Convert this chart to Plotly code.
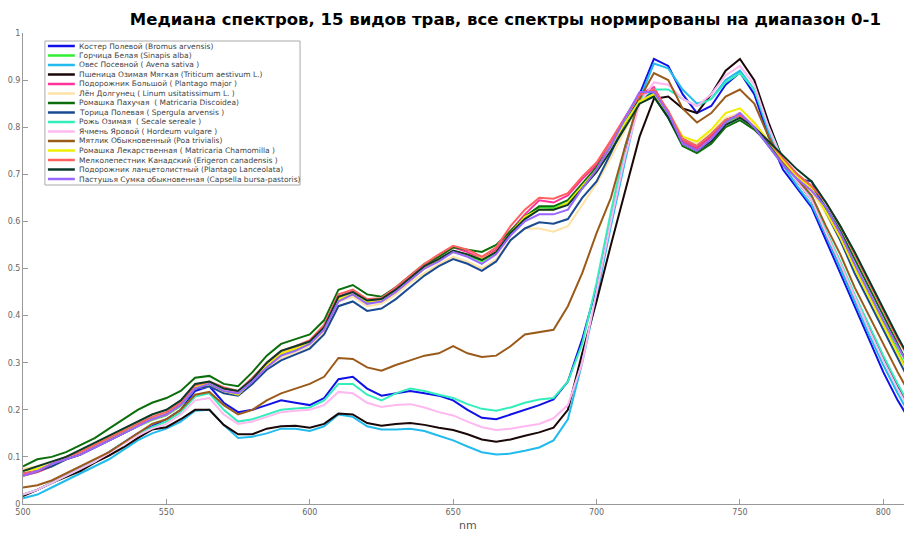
import plotly.graph_objects as go

wavelengths = list(range(500, 811, 5))

names = [
    "Костер Полевой (Bromus arvensis)",
    "Горчица Белая (Sinapis alba)",
    "Овес Посевной ( Avena sativa )",
    "Пшеница Озимая Мягкая (Triticum aestivum L.)",
    "Подорожник Большой ( Plantago major )",
    "Лён Долгунец ( Linum usitatissimum L. )",
    "Ромашка Пахучая  ( Matricaria Discoidea)",
    "Торица Полевая ( Spergula arvensis )",
    "Рожь Озимая  ( Secale sereale )",
    "Ячмень Яровой ( Hordeum vulgare )",
    "Мятлик Обыкновенный (Poa trivialis)",
    "Ромашка Лекарственная ( Matricaria Chamomilla )",
    "Мелколепестник Канадский (Erigeron canadensis )",
    "Подорожник ланцетолистный (Plantago Lanceolata)",
    "Пастушья Сумка обыкновенная (Capsella bursa-pastoris)",
]

colors = ["#1010e8", "#33ee33", "#22bbee", "#1a0808", "#ff3399", "#ffe2a6",
          "#0b6e0b", "#1a4a90", "#33eebb", "#ffb8f0", "#9a5a1a", "#eeee00",
          "#ff6060", "#0a3a28", "#9966ff"]

kostr = [0.02, 0.03, 0.045, 0.06, 0.075, 0.09, 0.11, 0.13, 0.15, 0.165, 0.18, 0.2, 0.24, 0.25, 0.215, 0.195,
         0.2, 0.21, 0.22, 0.215, 0.21, 0.225, 0.265, 0.27, 0.245, 0.23, 0.235, 0.24, 0.235, 0.23, 0.22, 0.2,
         0.183, 0.18, 0.19, 0.2, 0.21, 0.222, 0.26, 0.35, 0.46, 0.6, 0.74, 0.87, 0.945, 0.93, 0.87, 0.83,
         0.845, 0.89, 0.916, 0.87, 0.78, 0.71, 0.67, 0.63, 0.56, 0.49, 0.42, 0.35, 0.28, 0.22, 0.17]
gorchica = [0.06, 0.068, 0.08, 0.095, 0.105, 0.12, 0.135, 0.15, 0.165, 0.178, 0.188, 0.208, 0.245, 0.252, 0.238, 0.232,
            0.26, 0.29, 0.315, 0.327, 0.34, 0.37, 0.435, 0.445, 0.428, 0.43, 0.45, 0.475, 0.5, 0.518, 0.535, 0.528,
            0.515, 0.535, 0.575, 0.61, 0.63, 0.628, 0.64, 0.675, 0.71, 0.76, 0.81, 0.86, 0.875, 0.825, 0.77, 0.755,
            0.78, 0.81, 0.825, 0.8, 0.765, 0.725, 0.695, 0.67, 0.625, 0.57, 0.505, 0.445, 0.385, 0.325, 0.265]
oves = [0.012, 0.02, 0.035, 0.05, 0.065, 0.08, 0.095, 0.115, 0.135, 0.15, 0.16, 0.175, 0.198, 0.2, 0.168, 0.14,
        0.143, 0.15, 0.16, 0.16, 0.155, 0.165, 0.19, 0.185, 0.165, 0.158, 0.158, 0.16, 0.155, 0.145, 0.135, 0.122,
        0.11, 0.105, 0.107, 0.113, 0.12, 0.135, 0.18, 0.3, 0.44, 0.59, 0.73, 0.86, 0.935, 0.925, 0.88, 0.85,
        0.86, 0.9, 0.92, 0.88, 0.79, 0.72, 0.675, 0.635, 0.57, 0.5, 0.43, 0.36, 0.295, 0.235, 0.18]
pshenica = [0.017, 0.03, 0.045, 0.058, 0.07, 0.088, 0.103, 0.12, 0.14, 0.158, 0.163, 0.18, 0.2, 0.2, 0.168, 0.148,
            0.148, 0.16, 0.165, 0.166, 0.162, 0.17, 0.192, 0.19, 0.172, 0.166, 0.17, 0.172, 0.168, 0.162, 0.157, 0.148,
            0.137, 0.132, 0.137, 0.145, 0.152, 0.162, 0.2, 0.32, 0.43, 0.55, 0.665, 0.78, 0.86, 0.865, 0.84, 0.83,
            0.87, 0.92, 0.945, 0.9, 0.81, 0.73, 0.685, 0.645, 0.575, 0.51, 0.44, 0.375, 0.31, 0.25, 0.195]
podorozhnik_b = [0.06, 0.068, 0.08, 0.095, 0.105, 0.12, 0.135, 0.15, 0.168, 0.18, 0.19, 0.215, 0.25, 0.258, 0.245, 0.238,
                 0.265, 0.295, 0.32, 0.33, 0.345, 0.375, 0.44, 0.452, 0.432, 0.435, 0.455, 0.48, 0.505, 0.525, 0.545, 0.535,
                 0.52, 0.54, 0.58, 0.615, 0.645, 0.64, 0.655, 0.69, 0.72, 0.77, 0.82, 0.87, 0.885, 0.83, 0.77, 0.755,
                 0.78, 0.815, 0.83, 0.8, 0.765, 0.725, 0.69, 0.665, 0.62, 0.57, 0.5, 0.44, 0.38, 0.32, 0.26]
len_ = [0.075, 0.08, 0.09, 0.1, 0.11, 0.125, 0.14, 0.155, 0.165, 0.18, 0.19, 0.21, 0.245, 0.25, 0.238, 0.235,
        0.26, 0.29, 0.31, 0.322, 0.335, 0.365, 0.43, 0.44, 0.42, 0.425, 0.445, 0.47, 0.49, 0.51, 0.525, 0.515,
        0.5, 0.52, 0.56, 0.585, 0.585, 0.578, 0.59, 0.635, 0.68, 0.735, 0.795, 0.85, 0.87, 0.835, 0.78, 0.765,
        0.79, 0.82, 0.83, 0.805, 0.77, 0.73, 0.69, 0.665, 0.615, 0.56, 0.495, 0.435, 0.375, 0.315, 0.255]
romashka_p = [0.08, 0.095, 0.1, 0.11, 0.125, 0.14, 0.16, 0.18, 0.2, 0.215, 0.225, 0.24, 0.268, 0.272, 0.255, 0.25,
              0.28, 0.315, 0.34, 0.35, 0.36, 0.39, 0.455, 0.465, 0.445, 0.44, 0.46, 0.485, 0.51, 0.525, 0.545, 0.54,
              0.535, 0.55, 0.58, 0.61, 0.632, 0.632, 0.645, 0.68, 0.715, 0.76, 0.81, 0.86, 0.865, 0.82, 0.76, 0.745,
              0.765, 0.8, 0.815, 0.795, 0.765, 0.73, 0.7, 0.675, 0.63, 0.58, 0.52, 0.46, 0.4, 0.34, 0.28]
torica = [0.065, 0.07, 0.08, 0.095, 0.105, 0.12, 0.135, 0.15, 0.165, 0.18, 0.19, 0.21, 0.245, 0.25, 0.235, 0.23,
          0.255, 0.285, 0.305, 0.318, 0.33, 0.36, 0.42, 0.43, 0.41, 0.415, 0.435, 0.46, 0.485, 0.505, 0.52, 0.51,
          0.495, 0.515, 0.56, 0.585, 0.598, 0.595, 0.605, 0.65, 0.685, 0.745, 0.81, 0.86, 0.875, 0.83, 0.775, 0.76,
          0.785, 0.815, 0.825, 0.8, 0.76, 0.72, 0.69, 0.685, 0.62, 0.56, 0.49, 0.43, 0.37, 0.31, 0.25]
rozh = [0.02, 0.03, 0.045, 0.06, 0.075, 0.09, 0.11, 0.13, 0.148, 0.163, 0.175, 0.195, 0.228, 0.235, 0.2, 0.175,
        0.18, 0.19, 0.2, 0.203, 0.205, 0.22, 0.255, 0.255, 0.232, 0.22, 0.235, 0.245, 0.24, 0.232, 0.225, 0.212,
        0.202, 0.198, 0.205, 0.215, 0.222, 0.225, 0.26, 0.34, 0.47, 0.62, 0.76, 0.86, 0.88, 0.88, 0.86, 0.845,
        0.86, 0.895, 0.915, 0.88, 0.8, 0.73, 0.69, 0.65, 0.58, 0.515, 0.445, 0.38, 0.315, 0.255, 0.2]
yachmen = [0.02, 0.03, 0.045, 0.06, 0.075, 0.09, 0.108, 0.128, 0.145, 0.16, 0.17, 0.19, 0.22, 0.225, 0.19, 0.17,
           0.175, 0.185, 0.195, 0.198, 0.2, 0.21, 0.238, 0.235, 0.215, 0.206, 0.21, 0.212, 0.205, 0.195, 0.188, 0.175,
           0.163, 0.157, 0.16, 0.165, 0.17, 0.182, 0.21, 0.3, 0.45, 0.6, 0.74, 0.85, 0.895, 0.89, 0.86, 0.845,
           0.87, 0.91, 0.93, 0.89, 0.8, 0.725, 0.685, 0.645, 0.575, 0.51, 0.44, 0.37, 0.305, 0.245, 0.19]
myatlik = [0.035, 0.04, 0.05, 0.065, 0.08, 0.095, 0.11, 0.13, 0.15, 0.17, 0.18, 0.2, 0.232, 0.238, 0.21, 0.19,
           0.2, 0.22, 0.235, 0.245, 0.255, 0.27, 0.31, 0.308, 0.29, 0.283, 0.295, 0.305, 0.315, 0.32, 0.335, 0.32,
           0.312, 0.315, 0.335, 0.36, 0.365, 0.37, 0.42, 0.49, 0.575, 0.65, 0.76, 0.86, 0.915, 0.9, 0.84, 0.81,
           0.83, 0.865, 0.88, 0.85, 0.78, 0.725, 0.69, 0.655, 0.59, 0.53, 0.46, 0.4, 0.34, 0.28, 0.225]
romashka_l = [0.07, 0.075, 0.085, 0.1, 0.11, 0.125, 0.14, 0.155, 0.165, 0.18, 0.19, 0.21, 0.25, 0.255, 0.24, 0.232,
              0.262, 0.295, 0.32, 0.33, 0.342, 0.37, 0.435, 0.445, 0.43, 0.43, 0.45, 0.475, 0.5, 0.52, 0.535, 0.53,
              0.52, 0.535, 0.575, 0.61, 0.625, 0.625, 0.64, 0.675, 0.71, 0.76, 0.81, 0.855, 0.87, 0.83, 0.78, 0.77,
              0.795, 0.83, 0.84, 0.81, 0.77, 0.73, 0.695, 0.67, 0.62, 0.565, 0.5, 0.44, 0.38, 0.32, 0.26]
melkolepestnik = [0.065, 0.07, 0.085, 0.1, 0.11, 0.125, 0.14, 0.155, 0.17, 0.185, 0.195, 0.215, 0.252, 0.26, 0.248, 0.24,
                  0.268, 0.3, 0.325, 0.335, 0.348, 0.38, 0.445, 0.455, 0.435, 0.437, 0.46, 0.485, 0.51, 0.53, 0.548, 0.54,
                  0.525, 0.545, 0.59, 0.625, 0.65, 0.648, 0.66, 0.695, 0.725, 0.772, 0.822, 0.868, 0.88, 0.835, 0.775, 0.76,
                  0.785, 0.815, 0.825, 0.8, 0.77, 0.735, 0.7, 0.675, 0.64, 0.59, 0.53, 0.47, 0.41, 0.35, 0.3]
podorozhnik_l = [0.07, 0.08, 0.09, 0.1, 0.115, 0.13, 0.145, 0.16, 0.175, 0.19, 0.2, 0.22, 0.255, 0.26, 0.245, 0.24,
                 0.265, 0.3, 0.325, 0.335, 0.345, 0.375, 0.44, 0.45, 0.432, 0.435, 0.455, 0.48, 0.505, 0.52, 0.538, 0.53,
                 0.518, 0.535, 0.575, 0.605, 0.625, 0.625, 0.635, 0.67, 0.705, 0.75, 0.8, 0.85, 0.865, 0.82, 0.765, 0.75,
                 0.77, 0.805, 0.82, 0.8, 0.77, 0.74, 0.71, 0.685, 0.64, 0.59, 0.535, 0.475, 0.415, 0.355, 0.3]
pastushya = [0.06, 0.07, 0.085, 0.095, 0.105, 0.12, 0.135, 0.15, 0.165, 0.18, 0.19, 0.21, 0.245, 0.255, 0.24, 0.235,
             0.26, 0.29, 0.315, 0.325, 0.34, 0.37, 0.43, 0.445, 0.425, 0.43, 0.45, 0.475, 0.5, 0.515, 0.535, 0.525,
             0.51, 0.53, 0.57, 0.6, 0.615, 0.615, 0.625, 0.67, 0.71, 0.76, 0.82, 0.875, 0.875, 0.83, 0.765, 0.75,
             0.775, 0.81, 0.83, 0.8, 0.76, 0.72, 0.69, 0.665, 0.63, 0.575, 0.51, 0.45, 0.39, 0.335, 0.28]

series = [kostr, gorchica, oves, pshenica, podorozhnik_b, len_, romashka_p, torica, rozh, yachmen,
          myatlik, romashka_l, melkolepestnik, podorozhnik_l, pastushya]

x_ticks = [500, 550, 600, 650, 700, 750, 800]
y_ticks = [0, 0.1, 0.2, 0.3, 0.4, 0.5, 0.6, 0.7, 0.8, 0.9, 1]
y_ticktext = ["0", "0.1", "0.2", "0.3", "0.4", "0.5", "0.6", "0.7", "0.8", "0.9", "1"]

# the page body has an 8px default margin, so the figure starts at (8, 8) in the window
OFF = 8
W, H = 904, 525
L, R, T, B = 12, 0, 25, 29
PW, PH = W - L - R, H - T - B


def px(xp):
    return (xp - OFF - L) / PW


def py(yp):
    return (H - B - (yp - OFF)) / PH


fig = go.Figure()
for name, vals, col in zip(names, series, colors):
    fig.add_trace(go.Scatter(x=wavelengths, y=vals, mode="lines", name=name,
                             line=dict(color=col, width=2), showlegend=False))

shapes = [dict(type="rect", xref="paper", yref="paper", x0=px(42), x1=px(298), y0=py(41), y1=py(185),
               line=dict(color="#aaaaaa", width=1), fillcolor="white", layer="above")]
annotations = []
for i, (name, col) in enumerate(zip(names, colors)):
    yc = 46 + i * 9.5
    shapes.append(dict(type="line", xref="paper", yref="paper", x0=px(45), x1=px(72), y0=py(yc), y1=py(yc),
                       line=dict(color=col, width=2.5), layer="above"))
    annotations.append(dict(text=name, xref="paper", yref="paper", x=px(74), y=py(yc), xanchor="left",
                            yanchor="middle", showarrow=False, font=dict(size=7.5, color="#444444",
                                                                         family="DejaVu Sans")))

annotations.append(dict(text="nm", xref="paper", yref="paper", x=px(466), y=py(525), xanchor="center",
                        yanchor="middle", showarrow=False, font=dict(size=11, color="#555555",
                                                                     family="DejaVu Sans")))

fig.update_layout(
    width=W, height=H,
    margin=dict(l=L, r=R, t=T, b=B),
    paper_bgcolor="white", plot_bgcolor="white",
    title=dict(text="<b>Медиана спектров, 15 видов трав, все спектры нормированы на диапазон 0-1</b>",
               x=px(504), xref="paper", xanchor="center", y=1 - (19 - OFF) / H, yref="container",
               yanchor="middle", font=dict(size=16.5, color="black", family="DejaVu Sans")),
    shapes=shapes,
    annotations=annotations,
    xaxis=dict(range=[500, 810], tickvals=x_ticks, ticks="inside", ticklen=5, tickcolor="#999999",
               showline=True, linecolor="#999999", linewidth=1, showgrid=False, zeroline=False,
               tickfont=dict(size=8, color="#666666", family="DejaVu Sans")),
    yaxis=dict(range=[0, 1], tickvals=y_ticks, ticktext=y_ticktext, ticks="inside", ticklen=5,
               tickcolor="#999999", showline=True, linecolor="#999999", linewidth=1, showgrid=False,
               zeroline=False, tickfont=dict(size=8, color="#666666", family="DejaVu Sans")),
)

fig.write_html("out.html")
